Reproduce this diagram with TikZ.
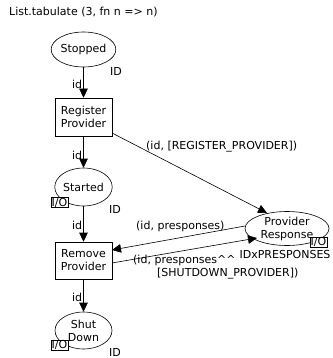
\documentclass[tikz,border=0pt]{standalone}
\usepackage{fontspec}
\setmainfont{DejaVu Sans}
\usetikzlibrary{arrows.meta,shapes.geometric}
\begin{document}
\begin{tikzpicture}[x=1pt,y=-1pt,
  every node/.style={font=\fontsize{11}{13}\selectfont, inner sep=0pt},
  place/.style={draw, ellipse, line width=0.6pt},
  trans/.style={draw, rectangle, line width=0.6pt, align=center},
  port/.style={draw, rectangle, line width=0.5pt, inner xsep=0.8pt, inner ysep=0.3pt, fill=white},
  arc/.style={line width=0.6pt, -{Triangle[length=9pt,width=8.5pt]}},
  lbl/.style={align=left}]
\useasboundingbox (0,0) rectangle (332,358);
\node[anchor=west] (title) at (9,12) {List.tabulate (3, fn n => n)};
\node[place, minimum width=57, minimum height=35] (stopped) at (83.5,49.5) {Stopped};
\node (idS) at (116,71) {ID};
\node[trans, minimum width=57, minimum height=38] (reg) at (83.5,117) {Register\\Provider};
\node[place, minimum width=57, minimum height=38] (started) at (83.5,187) {Started};
\node[port] (ioS) at (59.5,202.5) {I/O};
\node (idSt) at (115,209) {ID};
\node[trans, minimum width=57, minimum height=37] (rem) at (83.5,260.5) {Remove\\Provider};
\node[place, minimum width=57, minimum height=37, align=center] (shut) at (83.5,330.5) {Shut\\Down};
\node[port] (ioD) at (59.5,345) {I/O};
\node (idD) at (115,352) {ID};
\node[place, minimum width=84, minimum height=34, align=center] (pr) at (287,228.5) {Provider\\Response};
\node[port] (ioP) at (318.5,242) {I/O};
\node (prtype) at (285,254) {IDxPRESPONSES};
\draw[arc] (stopped) -- (reg) node[pos=0.55, anchor=east, xshift=-1pt] {id};
\draw[arc] (reg) -- (started) node[pos=0.6, anchor=east, xshift=-1pt] {id};
\draw[arc] (started) -- (rem) node[pos=0.55, anchor=east, xshift=-1pt] {id};
\draw[arc] (rem) -- (shut) node[pos=0.55, anchor=east, xshift=-1pt] {id};
\coordinate (a1) at (112,133);
\coordinate (b1) at (267,213);
\coordinate (a2) at (245,226);
\coordinate (b2) at (112,250);
\coordinate (a3) at (112,263);
\coordinate (b3) at (257,238);
\draw[arc] (a1) -- (b1);
\node[anchor=west] (l1) at (146,147) {(id, [REGISTER\_PROVIDER])};
\draw[arc] (a2) -- (b2);
\node[anchor=west] (l2) at (136,226) {(id, presponses)};
\draw[arc] (a3) -- (b3);
\node[lbl, anchor=north west] (l3) at (133,255) {(id, presponses\^{}\^{}\\\hspace*{24pt}[SHUTDOWN\_PROVIDER])};
\end{tikzpicture}
\end{document}
